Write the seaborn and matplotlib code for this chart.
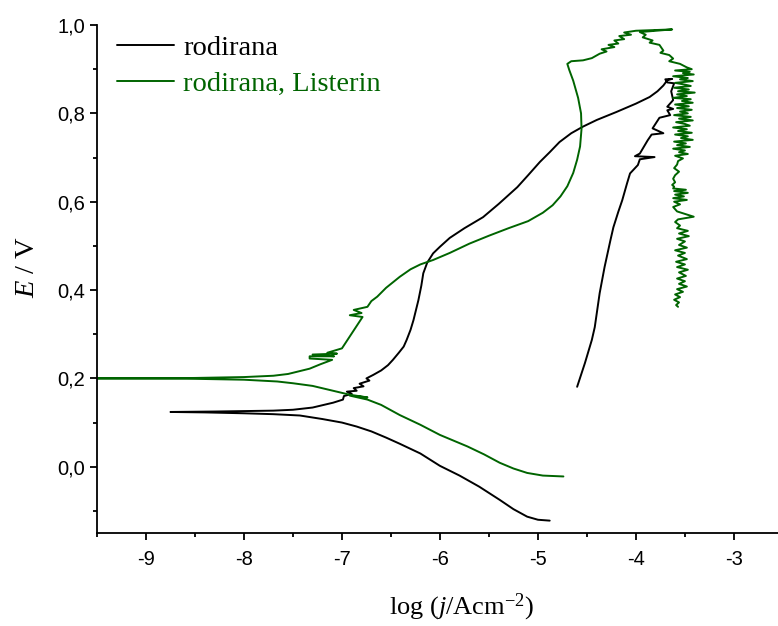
import matplotlib
matplotlib.use("Agg")
import matplotlib.pyplot as plt
import pandas as pd
import seaborn as sns
from matplotlib.ticker import FuncFormatter, MultipleLocator

# rodirana: katodna grana (od kraja prema Ekor) + anodna grana
rod_x = [
    -4.88, -5.00, -5.11, -5.25, -5.39, -5.60, -5.80, -6.00, -6.20, -6.41, -6.55, -6.70, -6.85, -7.00, -7.20,
    -7.43, -7.70, -8.00, -8.40, -8.75,
    -8.30, -8.00, -7.70, -7.50, -7.30, -7.09, -6.99, -6.98, -6.90, -6.95, -6.85, -6.88, -6.78, -6.82, -6.72,
    -6.75, -6.68, -6.60, -6.53, -6.48, -6.42, -6.37, -6.34, -6.30, -6.27, -6.22, -6.19, -6.17, -6.13, -6.07,
    -6.00, -5.90, -5.75, -5.56, -5.40, -5.21, -5.10, -4.98, -4.88, -4.78, -4.66, -4.54, -4.40, -4.20, -4.00,
    -3.86, -3.78, -3.72, -3.68, -3.63, -3.70, -3.68, -3.61, -3.64, -3.62, -3.68, -3.62, -3.68, -3.65, -3.76,
    -3.83, -3.72, -3.84, -3.88, -3.96, -4.01, -3.81, -3.96, -3.98, -4.06, -4.09, -4.14, -4.18, -4.23, -4.26,
    -4.32, -4.37, -4.42, -4.45, -4.52, -4.60,
]
rod_y = [
    -0.122, -0.120, -0.113, -0.096, -0.075, -0.045, -0.020, 0.002, 0.030, 0.052, 0.066, 0.080, 0.091, 0.100, 0.108,
    0.116, 0.119, 0.121, 0.123, 0.124,
    0.125, 0.126, 0.127, 0.129, 0.134, 0.145, 0.152, 0.160, 0.165, 0.170, 0.172, 0.178, 0.182, 0.188, 0.195,
    0.200, 0.208, 0.218, 0.230, 0.242, 0.258, 0.272, 0.287, 0.310, 0.332, 0.377, 0.410, 0.438, 0.462, 0.483,
    0.498, 0.518, 0.540, 0.565, 0.595, 0.633, 0.660, 0.690, 0.712, 0.735, 0.755, 0.770, 0.785, 0.803, 0.822,
    0.837, 0.850, 0.863, 0.875, 0.878, 0.877, 0.870, 0.868, 0.850, 0.830, 0.815, 0.810, 0.807, 0.796, 0.790,
    0.766, 0.755, 0.752, 0.739, 0.709, 0.703, 0.701, 0.696, 0.683, 0.664, 0.642, 0.603, 0.577, 0.542, 0.513,
    0.452, 0.393, 0.316, 0.287, 0.235, 0.181,
]

# rodirana, Listerin: katodna grana
lis_cat_x = [-4.74, -4.95, -5.11, -5.25, -5.39, -5.55, -5.72, -6.00, -6.20, -6.41, -6.60, -6.74, -6.92, -6.74,
             -6.92, -7.09, -7.30, -7.50, -7.66, -8.00, -8.50, -9.00, -9.80]
lis_cat_y = [-0.022, -0.020, -0.014, -0.004, 0.009, 0.028, 0.046, 0.072, 0.095, 0.117, 0.140, 0.152, 0.161, 0.157,
             0.163, 0.172, 0.183, 0.189, 0.193, 0.197, 0.199, 0.200, 0.200]
# anodna grana do vrha
lis_an_x = [-9.00, -8.50, -8.00, -7.70, -7.55, -7.46, -7.33, -7.22, -7.10, -7.33, -7.33, -7.08, -7.30, -7.05,
            -7.15, -7.00, -6.95, -6.89, -6.84, -6.79, -6.92, -6.80, -6.88, -6.74, -6.70, -6.64, -6.55, -6.41,
            -6.30, -6.20, -6.07, -5.90, -5.70, -5.50, -5.30, -5.10, -4.95, -4.85, -4.77, -4.70, -4.64, -4.60,
            -4.57, -4.555, -4.56, -4.59, -4.64, -4.68, -4.70, -4.66, -4.54, -4.45, -4.37, -4.30, -4.35, -4.22,
            -4.28, -4.18, -4.22, -4.12, -4.17, -4.05, -4.12, -4.00, -3.63, -3.96, -3.90, -3.93, -3.83, -3.86,
            -3.76, -3.72, -3.75, -3.66, -3.62, -3.66, -3.55, -3.48]
lis_an_y = [0.200, 0.201, 0.203, 0.206, 0.210, 0.215, 0.222, 0.232, 0.242, 0.245, 0.250, 0.250, 0.254, 0.256,
            0.258, 0.268, 0.285, 0.305, 0.322, 0.339, 0.343, 0.348, 0.355, 0.362, 0.375, 0.385, 0.405, 0.430,
            0.447, 0.458, 0.468, 0.484, 0.505, 0.523, 0.540, 0.556, 0.575, 0.592, 0.612, 0.635, 0.665, 0.695,
            0.725, 0.765, 0.800, 0.835, 0.874, 0.898, 0.912, 0.918, 0.920, 0.925, 0.935, 0.940, 0.945, 0.950,
            0.955, 0.958, 0.965, 0.968, 0.975, 0.978, 0.983, 0.987, 0.990, 0.984, 0.978, 0.972, 0.965, 0.960,
            0.955, 0.942, 0.937, 0.932, 0.924, 0.918, 0.912, 0.904]
# silazni šumni dio pri ~ -3.5
lis_noise_x = [
    -3.43, -3.60, -3.45, -3.52, -3.41, -3.62, -3.47, -3.55, -3.42, -3.60, -3.50, -3.44, -3.61, -3.46, -3.57,
    -3.40, -3.58, -3.48, -3.62, -3.44, -3.53, -3.42, -3.60, -3.46, -3.58, -3.43, -3.55, -3.47, -3.61, -3.44,
    -3.56, -3.42, -3.59, -3.50, -3.45, -3.62, -3.48, -3.57, -3.43, -3.60, -3.47, -3.54, -3.42, -3.61, -3.49,
    -3.58, -3.45, -3.62, -3.50, -3.56, -3.47, -3.60, -3.52, -3.57, -3.58, -3.61, -3.56, -3.60, -3.62, -3.60,
    -3.63, -3.61, -3.62, -3.49, -3.61, -3.47, -3.60, -3.51, -3.62, -3.48, -3.61, -3.55, -3.62, -3.58, -3.41,
    -3.57, -3.60, -3.55, -3.58, -3.47, -3.56, -3.46, -3.58, -3.50, -3.56, -3.48, -3.60, -3.50, -3.57, -3.48,
    -3.59, -3.50, -3.58, -3.47, -3.56, -3.49, -3.58, -3.50, -3.56, -3.48, -3.58, -3.52, -3.60, -3.55, -3.61,
    -3.56, -3.59, -3.57,
]
lis_noise_y = [
    0.900, 0.897, 0.894, 0.891, 0.888, 0.884, 0.880, 0.877, 0.873, 0.869, 0.865, 0.862, 0.858, 0.854, 0.850,
    0.847, 0.843, 0.839, 0.835, 0.832, 0.828, 0.824, 0.820, 0.816, 0.812, 0.808, 0.804, 0.800, 0.796, 0.792,
    0.788, 0.784, 0.780, 0.776, 0.772, 0.768, 0.764, 0.760, 0.756, 0.752, 0.748, 0.744, 0.740, 0.736, 0.732,
    0.728, 0.724, 0.720, 0.716, 0.712, 0.708, 0.704, 0.698, 0.692, 0.684, 0.676, 0.668, 0.660, 0.652, 0.644,
    0.638, 0.634, 0.630, 0.627, 0.624, 0.620, 0.616, 0.612, 0.608, 0.604, 0.600, 0.594, 0.588, 0.578, 0.566,
    0.560, 0.554, 0.546, 0.540, 0.534, 0.528, 0.522, 0.516, 0.510, 0.502, 0.496, 0.490, 0.484, 0.478, 0.470,
    0.464, 0.458, 0.452, 0.446, 0.440, 0.432, 0.426, 0.420, 0.414, 0.408, 0.402, 0.396, 0.390, 0.384, 0.378,
    0.372, 0.366, 0.362,
]

GREEN = "#006400"

sns.set_theme(style="ticks")
plt.rcParams["font.family"] = ["Liberation Sans", "DejaVu Sans"]
plt.rcParams["text.color"] = "black"
plt.rcParams["axes.labelcolor"] = "black"
plt.rcParams["axes.unicode_minus"] = False
plt.rcParams["mathtext.fontset"] = "custom"
plt.rcParams["mathtext.rm"] = "Liberation Serif"
plt.rcParams["mathtext.it"] = "Liberation Serif:italic"

rod_df = pd.DataFrame({"x": rod_x, "y": rod_y})
lis_df = pd.DataFrame({
    "x": lis_cat_x + lis_an_x + lis_noise_x,
    "y": lis_cat_y + lis_an_y + lis_noise_y,
})

fig = plt.figure(figsize=(7.78, 6.26), dpi=100)
ax = fig.add_axes([97 / 778, 1 - 533 / 626, 1 - 97 / 778, (533 - 25) / 626])

sns.lineplot(data=rod_df, x="x", y="y", sort=False, estimator=None, color="black", lw=1.4,
             label="rodirana", ax=ax)
sns.lineplot(data=lis_df, x="x", y="y", sort=False, estimator=None, color=GREEN, lw=1.4,
             label="rodirana, Listerin", ax=ax)

ax.set_xlim(-9.5, -2.55)
ax.set_ylim(-0.15, 1.0)
ax.xaxis.set_major_locator(MultipleLocator(1))
ax.xaxis.set_minor_locator(MultipleLocator(0.5))
ax.yaxis.set_major_locator(MultipleLocator(0.2))
ax.yaxis.set_minor_locator(MultipleLocator(0.1))
ax.xaxis.set_major_formatter(FuncFormatter(lambda v, p: f"{v:.0f}"))
ax.yaxis.set_major_formatter(FuncFormatter(lambda v, p: f"{v:.1f}".replace(".", ",")))
ax.tick_params(which="major", length=5, width=1.3, labelsize=14.5, color="black", labelcolor="black")
ax.tick_params(which="minor", length=3, width=1.3, color="black")
ax.tick_params(axis="x", which="major", pad=7)
ax.tick_params(axis="y", which="major", pad=3.5)

for side in ["top", "right"]:
    ax.spines[side].set_visible(False)
for side in ["left", "bottom"]:
    ax.spines[side].set_linewidth(1.3)
    ax.spines[side].set_color("black")

ax.set_xlabel(r"log ($\mathit{j}$/Acm$^{-2}$)", fontfamily="Liberation Serif", fontsize=19)
ax.set_ylabel(r"$\mathit{E}$ / V", fontfamily="Liberation Serif", fontsize=20.5)
ax.xaxis.set_label_coords(0.536, -0.116)
ax.yaxis.set_label_coords(-0.084, 0.524)

leg = ax.legend(loc="upper left", bbox_to_anchor=(0.03, 0.98), frameon=False, borderpad=0,
                borderaxespad=0, handlelength=2.0, handletextpad=0.3, labelspacing=0.36,
                prop={"family": "Liberation Serif", "size": 20.5})
leg.get_texts()[0].set_color("black")
leg.get_texts()[1].set_color(GREEN)

fig.savefig("out.png", dpi=100)
